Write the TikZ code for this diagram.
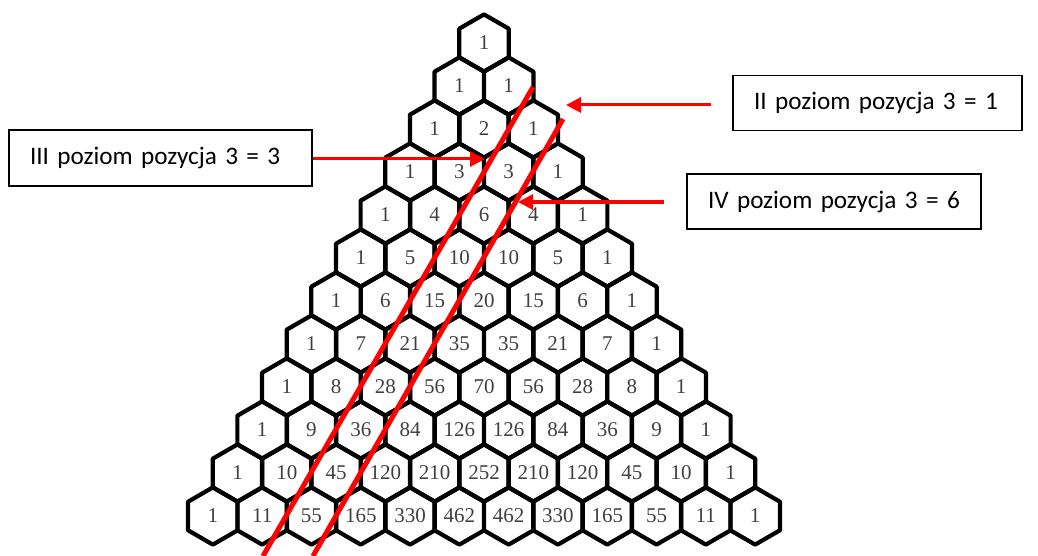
\documentclass[tikz,border=0pt]{standalone}
\usepackage{fontspec}
\setmainfont{Liberation Serif}
\newfontfamily\labelfont{Carlito}
\usepackage{tikz}
\usetikzlibrary{arrows.meta,positioning,shapes.geometric,calc}

\begin{document}
\begin{tikzpicture}[
        x=1pt, y=-1pt,
        hexcell/.style={regular polygon, regular polygon sides=6, regular polygon rotate=30, draw, line width=4.2pt, line join=round, minimum size=57.2pt, inner sep=0pt, font=\fontsize{21}{21}\selectfont, text=black!75},
        infobox/.style={rectangle, draw, line width=1.4pt, font=\labelfont\fontsize{25.2}{28}\selectfont, inner xsep=21pt, inner ysep=0pt, align=left},
        arrow/.style={-{Triangle[length=15pt,width=15pt]}, red, line width=3pt},
        diag/.style={red, line width=5pt}
        ]
        \useasboundingbox (0,0) rectangle (1038,556);

        % Pascal's triangle in hexagons
        \foreach \row [count=\r from 0] in {{1},{1,1},{1,2,1},{1,3,3,1},{1,4,6,4,1},{1,5,10,10,5,1},{1,6,15,20,15,6,1},{1,7,21,35,35,21,7,1},{1,8,28,56,70,56,28,8,1},{1,9,36,84,126,126,84,36,9,1},{1,10,45,120,210,252,210,120,45,10,1},{1,11,55,165,330,462,462,330,165,55,11,1}}
          \foreach \v [count=\k from 0] in \row
            \node[hexcell] (h-\r-\k) at ({484+(\k-\r/2)*49.3}, {43+\r*43}) {\v};

        % diagonals
        \coordinate (diagA-top) at (533,87);
        \coordinate (diagA-bot) at (263,556);
        \coordinate (diagB-top) at (563,119);
        \coordinate (diagB-bot) at (313,556);
        \draw[diag] (diagA-top) -- (diagA-bot);
        \draw[diag] (diagB-top) -- (diagB-bot);

        % labels
        \node[infobox, text width=247pt, minimum height=55pt] (lvlII) at (877.5,103) {\mbox{II poziom pozycja 3 = 1}};
        \node[infobox, text width=261pt, minimum height=56pt] (lvlIII) at (160.5,158) {\mbox{III poziom pozycja 3 = 3}};
        \node[infobox, text width=252pt, minimum height=55pt] (lvlIV) at (834,201.5) {\mbox{IV poziom pozycja 3 = 6}};

        \coordinate (tipII) at (566,105);
        \coordinate (tipIII) at (485,159);
        \coordinate (tipIV) at (518,202);

        \draw[arrow, shorten <=21pt] (lvlII.west |- tipII) -- (tipII);
        \draw[arrow] (lvlIII.east |- tipIII) -- (tipIII);
        \draw[arrow, shorten <=22pt] (lvlIV.west |- tipIV) -- (tipIV);
    \end{tikzpicture}
\end{document}
